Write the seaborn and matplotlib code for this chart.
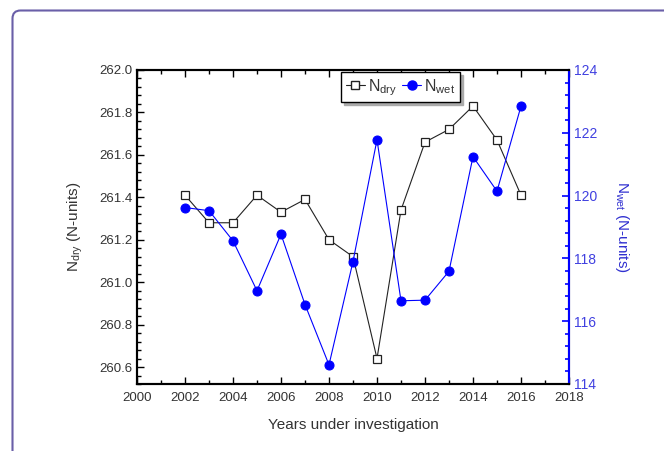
import numpy as np
import pandas as pd
import matplotlib
matplotlib.use("Agg")
import matplotlib.pyplot as plt
import seaborn as sns
from matplotlib.lines import Line2D
from matplotlib.patches import FancyBboxPatch
from matplotlib.ticker import MultipleLocator
from matplotlib.transforms import IdentityTransform

# ============= DATA =============
years = list(range(2002, 2017))
n_dry = [261.41, 261.28, 261.28, 261.41, 261.33, 261.39, 261.20, 261.12,
         260.64, 261.34, 261.66, 261.72, 261.83, 261.67, 261.41]
n_wet = [119.62, 119.52, 118.56, 116.97, 118.77, 116.53, 114.61, 117.90,
         121.78, 116.65, 116.67, 117.59, 121.24, 120.14, 122.85]

df = pd.DataFrame({"Year": years, "N_dry": n_dry, "N_wet": n_wet})

# ============= STYLE =============
sns.set_style("ticks")
plt.rcParams['font.family'] = ['Liberation Sans', 'DejaVu Sans']
plt.rcParams['mathtext.fontset'] = 'custom'
plt.rcParams['mathtext.rm'] = 'Liberation Sans'
plt.rcParams['mathtext.default'] = 'regular'

BLUE = "#0000ff"
GREY_TXT = "#333333"

fig = plt.figure(figsize=(6.64, 4.51), dpi=100)
ax = fig.add_axes([137/664, 1-384/451, 432/664, 314/451])
ax2 = ax.twinx()

# dry series on left axis
sns.lineplot(data=df, x="Year", y="N_dry", ax=ax, color="#222222", lw=0.8,
             marker="s", markersize=5.5, markerfacecolor="white",
             markeredgecolor="#222222", markeredgewidth=0.9)
# wet series on right axis
sns.lineplot(data=df, x="Year", y="N_wet", ax=ax2, color=BLUE, lw=0.8,
             marker="o", markersize=6.5, markerfacecolor=BLUE,
             markeredgecolor=BLUE)

ax.set_xlim(2000, 2018)
ax.set_ylim(260.52, 262.0)
ax2.set_ylim(114, 124)

ax.xaxis.set_major_locator(MultipleLocator(2))
ax.xaxis.set_minor_locator(MultipleLocator(1))
ax.yaxis.set_major_locator(MultipleLocator(0.2))
ax.yaxis.set_minor_locator(MultipleLocator(0.04))
ax2.yaxis.set_major_locator(MultipleLocator(2))
ax2.yaxis.set_minor_locator(MultipleLocator(0.4))
ax.yaxis.set_major_formatter(matplotlib.ticker.FormatStrFormatter('%.1f'))

ax.tick_params(axis='x', which='both', direction='in', top=True, colors='black',
               labelcolor=GREY_TXT, labelsize=9.5, width=1)
ax.tick_params(axis='x', which='major', length=5, pad=6)
ax.tick_params(axis='x', which='minor', length=3)
ax.tick_params(axis='y', which='both', direction='in', right=False, colors='black',
               labelcolor=GREY_TXT, labelsize=9.5, width=1)
ax.tick_params(axis='y', which='major', length=5)
ax.tick_params(axis='y', which='minor', length=3)
ax2.tick_params(axis='y', which='both', direction='in', colors=BLUE,
                labelcolor="#4040e0", labelsize=10, width=1.2)
ax2.tick_params(axis='y', which='major', length=5)
ax2.tick_params(axis='y', which='minor', length=3)

for s in ax.spines.values():
    s.set_linewidth(1.5)
    s.set_color("black")
for s in ax2.spines.values():
    s.set_linewidth(1.5)
    s.set_color("black")
ax2.spines['right'].set_color(BLUE)

ax.set_xlabel("Years under investigation", fontsize=11, color=GREY_TXT, labelpad=10)
ax.set_ylabel("N$_{dry}$ (N-units)", fontsize=11, color=GREY_TXT, labelpad=10)
ax2.set_ylabel("N$_{wet}$ (N-units)", fontsize=11, color="#3030d0",
               rotation=270, labelpad=24)

handles = [
    Line2D([], [], color="#222222", lw=0.8, marker="s", markersize=5.5,
           markerfacecolor="white", markeredgecolor="#222222"),
    Line2D([], [], color=BLUE, lw=0.8, marker="o", markersize=6.5,
           markerfacecolor=BLUE, markeredgecolor=BLUE),
]
leg = ax.legend(handles, ["N$_{dry}$", "N$_{wet}$"], ncol=2, loc="upper left",
                bbox_to_anchor=(0.472, 0.993), borderaxespad=0, fancybox=False,
                edgecolor="black", fontsize=11.5, handlelength=1.2,
                columnspacing=0.3, handletextpad=0.2, borderpad=0.3,
                shadow={'color': '#aaaaaa', 'alpha': 1})
leg.get_frame().set_linewidth(1.0)
for t in leg.get_texts():
    t.set_color(GREY_TXT)

# rounded frame round the figure, as in the source page
frame = FancyBboxPatch((12.5, -60), 720, 451 - 10.5 + 60,
                       boxstyle="round,pad=0,rounding_size=8",
                       transform=IdentityTransform(), fill=False,
                       edgecolor="#6a5fa8", lw=1.5)
fig.add_artist(frame)

fig.savefig("out.png", dpi=100)
